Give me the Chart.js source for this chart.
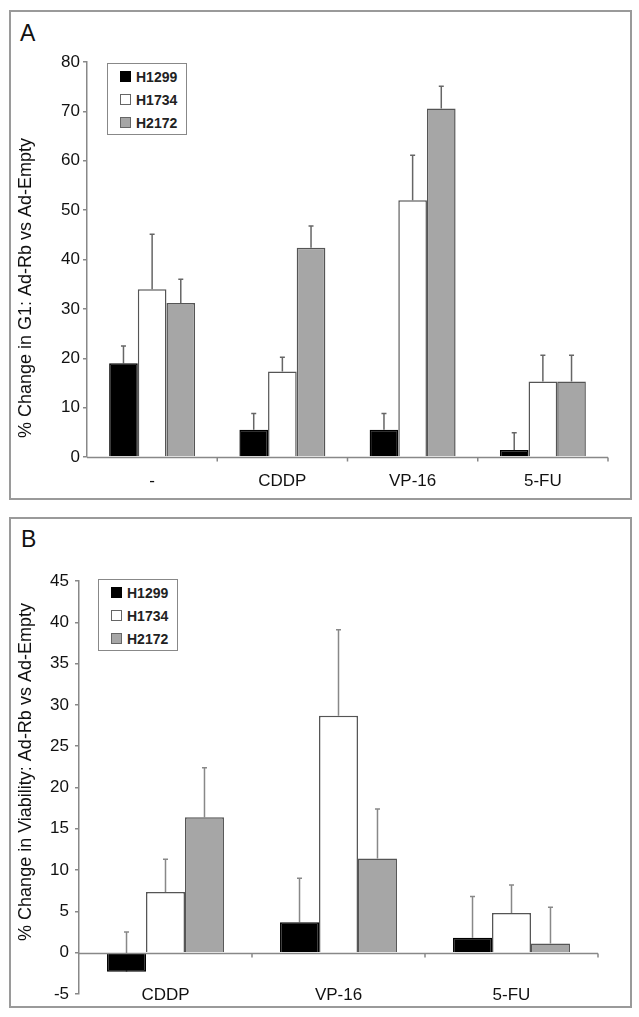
<!DOCTYPE html>
<html>
<head>
<meta charset="utf-8">
<script src="https://cdn.jsdelivr.net/npm/chart.js@4.4.0/dist/chart.umd.min.js"></script>
<style>
  body { margin: 0; background: #fff; width: 639px; height: 1017px; position: relative; overflow: hidden; font-family: "Liberation Sans", Arial, sans-serif; }
  .panel { position: absolute; border: 2px solid #9a9a9a; box-sizing: border-box; }
  .letter { position: absolute; font-size: 23px; line-height: 1; color: #111; }
  .cv { position: absolute; left: 0; }
  .legend { position: absolute; border: 1.5px solid #888; box-sizing: border-box; background: #fff; font-weight: bold; font-size: 14px; color: #222; padding-top: 1px; }
  .legend .row { height: 23px; display: flex; align-items: center; }
  .legend .sw { display: inline-block; width: 9px; height: 9px; border: 1px solid #555; margin: 0 5px 0 12px; }
</style>
</head>
<body>
<div class="panel" style="left:9px; top:10px; width:623px; height:490px;"></div>
<div class="panel" style="left:9px; top:517px; width:623px; height:491px;"></div>
<div class="letter" style="left:20px; top:22px;">A</div>
<div class="letter" style="left:21px; top:528px;">B</div>
<canvas id="chartA" class="cv" style="top:0px;" width="639" height="505"></canvas>
<canvas id="chartB" class="cv" style="top:505px;" width="639" height="512"></canvas>
<div class="legend" id="legendA" style="left:107px; top:63px; width:80px; height:72px;"></div>
<div class="legend" id="legendB" style="left:98px; top:579px; width:80px; height:72px;"></div>

<script>
// series names and colours
const seriesNames = ['H1299', 'H1734', 'H2172'];
const fills = ['#000000', '#ffffff', '#a6a6a6'];
const borders = ['#000000', '#555555', '#555555'];

// panel A: % change in G1
const catsA = ['-', 'CDDP', 'VP-16', '5-FU'];
const g1_H1299 = [19.0, 5.5, 5.5, 1.4];
const g1_H1734 = [34.0, 17.3, 52.0, 15.3];
const g1_H2172 = [31.2, 42.4, 70.6, 15.3];
const g1Err_H1299 = [3.5, 3.3, 3.3, 3.5];
const g1Err_H1734 = [11.1, 2.9, 9.1, 5.3];
const g1Err_H2172 = [4.8, 4.4, 4.5, 5.3];

// panel B: % change in viability
const catsB = ['CDDP', 'VP-16', '5-FU'];
const via_H1299 = [-2.3, 3.7, 1.8];
const via_H1734 = [7.35, 28.7, 4.8];
const via_H2172 = [16.4, 11.4, 1.1];
const viaErr_H1299 = [4.8, 5.3, 5.0];
const viaErr_H1734 = [3.95, 10.4, 3.4];
const viaErr_H2172 = [6.0, 6.0, 4.4];

const fontFamily = '"Liberation Sans", Arial, sans-serif';

const errorBars = {
    id: 'errorBars',
    beforeDatasetsDraw(chart, args, opts) {
        const { ctx, scales: { y } } = chart;
        ctx.save();
        ctx.strokeStyle = opts.color || '#777';
        ctx.lineWidth = 1.5;
        chart.data.datasets.forEach((ds, i) => {
            chart.getDatasetMeta(i).data.forEach((bar, j) => {
                const top = y.getPixelForValue(ds.data[j] + ds.errors[j]);
                const base = y.getPixelForValue(ds.data[j]);
                ctx.beginPath();
                ctx.moveTo(bar.x, base);
                ctx.lineTo(bar.x, top);
                ctx.moveTo(bar.x - 2.5, top);
                ctx.lineTo(bar.x + 2.5, top);
                ctx.stroke();
            });
        });
        ctx.restore();
    }
};

// x axis line at zero with ticks between categories; optional labels at the bottom of the plot
const zeroAxis = {
    id: 'zeroAxis',
    afterDatasetsDraw(chart, args, opts) {
        const { ctx, chartArea, scales: { x, y } } = chart;
        const y0 = Math.round(y.getPixelForValue(0)) + 0.5;
        const n = x.ticks.length;
        ctx.save();
        ctx.strokeStyle = '#888';
        ctx.lineWidth = 1.5;
        ctx.beginPath();
        ctx.moveTo(x.left, y0);
        ctx.lineTo(x.right, y0);
        for (let i = 1; i <= n; i++) {
            const px = x.left + i * x.width / n;
            ctx.moveTo(px, y0);
            ctx.lineTo(px, y0 + 4);
        }
        ctx.stroke();
        if (opts.bottomLabels) {
            ctx.font = '17px ' + fontFamily;
            ctx.fillStyle = '#111';
            ctx.textAlign = 'center';
            ctx.textBaseline = 'middle';
            chart.data.labels.forEach((lab, i) => {
                ctx.fillText(lab, x.getPixelForTick(i), chartArea.bottom + 1);
            });
        }
        ctx.restore();
    }
};

const sideTitle = {
    id: 'sideTitle',
    afterDraw(chart, args, opts) {
        const { ctx } = chart;
        ctx.save();
        ctx.translate(opts.x, opts.y);
        ctx.rotate(-Math.PI / 2);
        ctx.font = '18px ' + fontFamily;
        ctx.fillStyle = '#111';
        ctx.textAlign = 'center';
        ctx.textBaseline = 'middle';
        ctx.fillText(opts.text, 0, 0);
        ctx.restore();
    }
};

function makeSets(values, errs) {
    return seriesNames.map((name, i) => ({
        label: name,
        data: values[i],
        errors: errs[i],
        backgroundColor: fills[i],
        borderColor: borders[i],
        borderWidth: 1.5
    }));
}

function buildLegend(id) {
    const el = document.getElementById(id);
    el.innerHTML = seriesNames.map((name, i) =>
        `<div class="row"><span class="sw" style="background:${fills[i]}; border-color:${i === 0 ? '#000' : '#666'}"></span>${name}</div>`
    ).join('');
}

const tickFont = { family: fontFamily, size: 17 };

new Chart(document.getElementById('chartA'), {
    type: 'bar',
    data: { labels: catsA, datasets: makeSets([g1_H1299, g1_H1734, g1_H2172], [g1Err_H1299, g1Err_H1734, g1Err_H2172]) },
    options: {
        responsive: false,
        animation: false,
        layout: { padding: { left: 0, top: 62, right: 31, bottom: 8 } },
        datasets: { bar: { categoryPercentage: 0.66, barPercentage: 1.0 } },
        scales: {
            x: {
                grid: { display: false },
                border: { display: false },
                ticks: { color: '#111', font: tickFont, padding: 6.5 },
                afterFit: s => { s.height = 40; }
            },
            y: {
                min: 0, max: 80,
                ticks: { stepSize: 10, color: '#111', font: tickFont, padding: 3 },
                grid: { drawOnChartArea: false, tickLength: 4, tickColor: '#888', lineWidth: 1.5 },
                border: { color: '#888', width: 1.5 },
                afterFit: s => { s.width = 87; }
            }
        },
        plugins: {
            legend: { display: false },
            tooltip: { enabled: false },
            errorBars: { color: '#666' },
            zeroAxis: { bottomLabels: false },
            sideTitle: { text: '% Change in G1: Ad-Rb vs Ad-Empty', x: 26.5, y: 288 }
        }
    },
    plugins: [errorBars, zeroAxis, sideTitle]
});

new Chart(document.getElementById('chartB'), {
    type: 'bar',
    data: { labels: catsB, datasets: makeSets([via_H1299, via_H1734, via_H2172], [viaErr_H1299, viaErr_H1734, viaErr_H2172]) },
    options: {
        responsive: false,
        animation: false,
        layout: { padding: { left: 0, top: 76, right: 41, bottom: 3 } },
        datasets: { bar: { categoryPercentage: 0.676, barPercentage: 1.0 } },
        scales: {
            x: {
                grid: { display: false },
                border: { display: false },
                ticks: { display: false },
                afterFit: s => { s.height = 20; }
            },
            y: {
                min: -5, max: 45,
                ticks: { stepSize: 5, color: '#111', font: tickFont, padding: 6 },
                grid: { drawOnChartArea: false, tickLength: 4, tickColor: '#888', lineWidth: 1.5 },
                border: { color: '#888', width: 1.5 },
                afterFit: s => { s.width = 79; }
            }
        },
        plugins: {
            legend: { display: false },
            tooltip: { enabled: false },
            errorBars: { color: '#888' },
            zeroAxis: { bottomLabels: true },
            sideTitle: { text: '% Change in Viability: Ad-Rb vs Ad-Empty', x: 26.5, y: 267 }
        }
    },
    plugins: [errorBars, zeroAxis, sideTitle]
});

buildLegend('legendA');
buildLegend('legendB');
</script>
</body>
</html>
